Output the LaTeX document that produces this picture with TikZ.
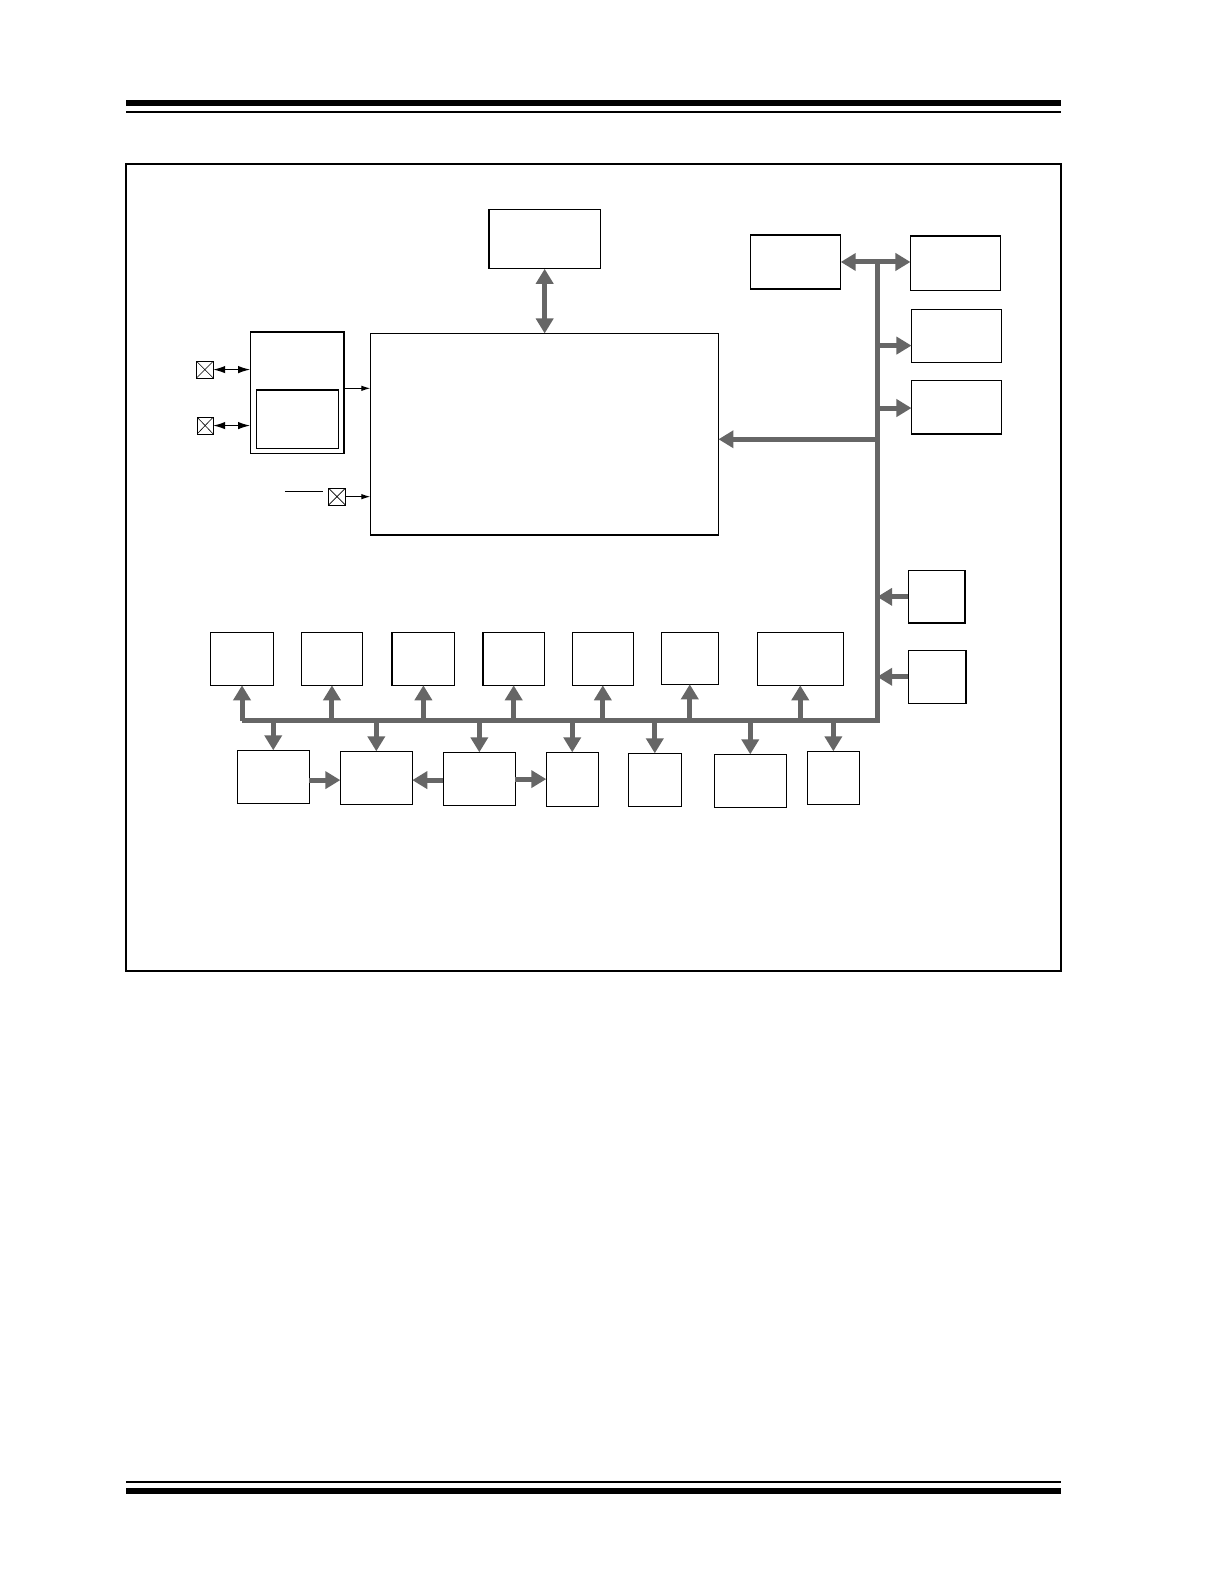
\documentclass[tikz,border=0pt]{standalone}
\usetikzlibrary{arrows.meta,fit}
\definecolor{busgray}{RGB}{102,102,102}
\begin{document}
\begin{tikzpicture}[x=1.0105pt,y=-1.0105pt,
  blk/.style={draw,line width=1.2pt,inner sep=0pt,outer sep=0pt},
  pinbox/.style={draw,line width=0.8pt,inner sep=0pt,outer sep=0pt,
    path picture={\draw[line width=0.6pt] (path picture bounding box.north west) -- (path picture bounding box.south east)
      (path picture bounding box.south west) -- (path picture bounding box.north east);}},
  busline/.style={draw=busgray,line width=5pt,line join=miter},
  busarrow/.style={draw=busgray,line width=5pt,-{Triangle[width=17pt,length=15pt]}},
  busboth/.style={draw=busgray,line width=5pt,{Triangle[width=17pt,length=15pt]}-{Triangle[width=17pt,length=15pt]}},
  sig/.style={draw=black,line width=1pt,-{Latex[length=9pt,width=5.5pt]}},
  sigboth/.style={draw=black,line width=1.2pt,{Latex[length=12pt,width=7.5pt]}-{Latex[length=12pt,width=7.5pt]}},
  rulethick/.style={line width=6pt},
  rulethin/.style={line width=2pt}]
\useasboundingbox (0,0) rectangle (1212.27,1568.53);
% page rules
\draw[rulethick] (124.7,102) -- (1050,102);
\draw[rulethin] (124.7,110.5) -- (1050,110.5);
\draw[rulethin] (124.7,1466.6) -- (1050,1466.6);
\draw[rulethick] (124.7,1475.5) -- (1050,1475.5);
% frame
\node[draw,line width=1.5pt,inner sep=0pt,fit={(124.7,162.3)(1050,961)}] (frame) {};
% central blocks
\node[blk,fit={(484,207)(594,266)}] (mem) {};
\node[blk,fit={(366.5,330)(711,529.5)}] (cpu) {};
\node[blk,fit={(247.5,328.5)(340.5,448.5)}] (osc) {};
\node[blk,fit={(253.6,386)(334.8,443.6)}] (oscin) {};
% pins
\node[pinbox,fit={(194.5,357.5)(211,374)}] (p1) {};
\node[pinbox,fit={(195,412.8)(211,429.5)}] (p2) {};
\node[pinbox,fit={(325,483)(342,500)}] (p3) {};
\coordinate (barL) at (282,486);
\coordinate (barR) at (320,486);
\draw[line width=0.9pt] (barL) -- (barR);
\draw[sigboth] (p1.east) -- (p1.east -| osc.west);
\draw[sigboth] (p2.east) -- (p2.east -| osc.west);
\coordinate (oscout) at (340.5,384.3);
\draw[sig] (oscout) -- (oscout -| cpu.west);
\coordinate (p3out) at (342,491.5);
\draw[sig] (p3out) -- (p3out -| cpu.west);
\draw[busboth] (mem.south) -- (mem.south |- cpu.north);
% right column
\node[blk,fit={(743,232.5)(832,286)}] (ee) {};
\node[blk,fit={(901,233.5)(990,287.3)}] (r1) {};
\node[blk,fit={(902,306)(991,358.5)}] (r2) {};
\node[blk,fit={(902,376.4)(991,429.5)}] (r3) {};
\node[blk,fit={(899,564.8)(955,616.5)}] (s1) {};
\node[blk,fit={(899,643.5)(956,696)}] (s2) {};
% bus
\coordinate (busTop) at (868,259.3);
\coordinate (busCorner) at (868,713.5);
% top row
\node[blk,fit={(208,625.7)(271,678.2)}] (t1) {};
\node[blk,fit={(298,625.7)(359,678.2)}] (t2) {};
\node[blk,fit={(388,625.7)(450,678.2)}] (t3) {};
\node[blk,fit={(478,625.7)(538.7,678.2)}] (t4) {};
\node[blk,fit={(566.4,625.7)(626.7,678.2)}] (t5) {};
\node[blk,fit={(654.4,625.7)(710.8,677.2)}] (t6) {};
\node[blk,fit={(749.4,625.7)(834.5,678.2)}] (t7) {};
% bottom row
\node[blk,fit={(234.8,742.5)(306,795)}] (b1) {};
\node[blk,fit={(336.8,743.5)(408,796)}] (b2) {};
\node[blk,fit={(438.7,744.5)(510,797)}] (b3) {};
\node[blk,fit={(540.6,744.5)(592,798)}] (b4) {};
\node[blk,fit={(621.8,745.5)(674.2,798)}] (b5) {};
\node[blk,fit={(706.9,746.5)(778,799)}] (b6) {};
\node[blk,fit={(799,743.5)(850.4,796)}] (b7) {};
\coordinate (busLeft) at (t1.south |- busCorner);
\draw[busline] (busLeft) -- (busCorner) -- (busTop);
% right side connectors
\draw[busboth] (ee.east) -- (ee.east -| r1.west);
\coordinate (r2in) at (902,342);
\draw[busarrow] (r2in -| busTop) -- (r2in);
\coordinate (r3in) at (902,403.8);
\draw[busarrow] (r3in -| busTop) -- (r3in);
\coordinate (cpuin) at (711,434.7);
\draw[busarrow] (cpuin -| busTop) -- (cpuin);
\draw[busarrow] (s1.west) -- (s1.west -| busTop);
\draw[busarrow] (s2.west) -- (s2.west -| busTop);
% up arrows
\foreach \n in {t1,t2,t3,t4,t5,t6,t7}
  \draw[busarrow] (busCorner -| \n.south) -- (\n.south);
% down arrows
\foreach \n in {b1,b2,b3,b4,b5,b6,b7}
  \draw[busarrow] (busCorner -| \n.north) -- (\n.north);
% bottom row links
\coordinate (h1) at (306,772);
\draw[busarrow] (h1) -- (h1 -| b2.west);
\coordinate (h2) at (438.7,772);
\draw[busarrow] (h2) -- (h2 -| b2.east);
\coordinate (h3) at (510,771);
\draw[busarrow] (h3) -- (h3 -| b4.west);
\end{tikzpicture}
\end{document}
